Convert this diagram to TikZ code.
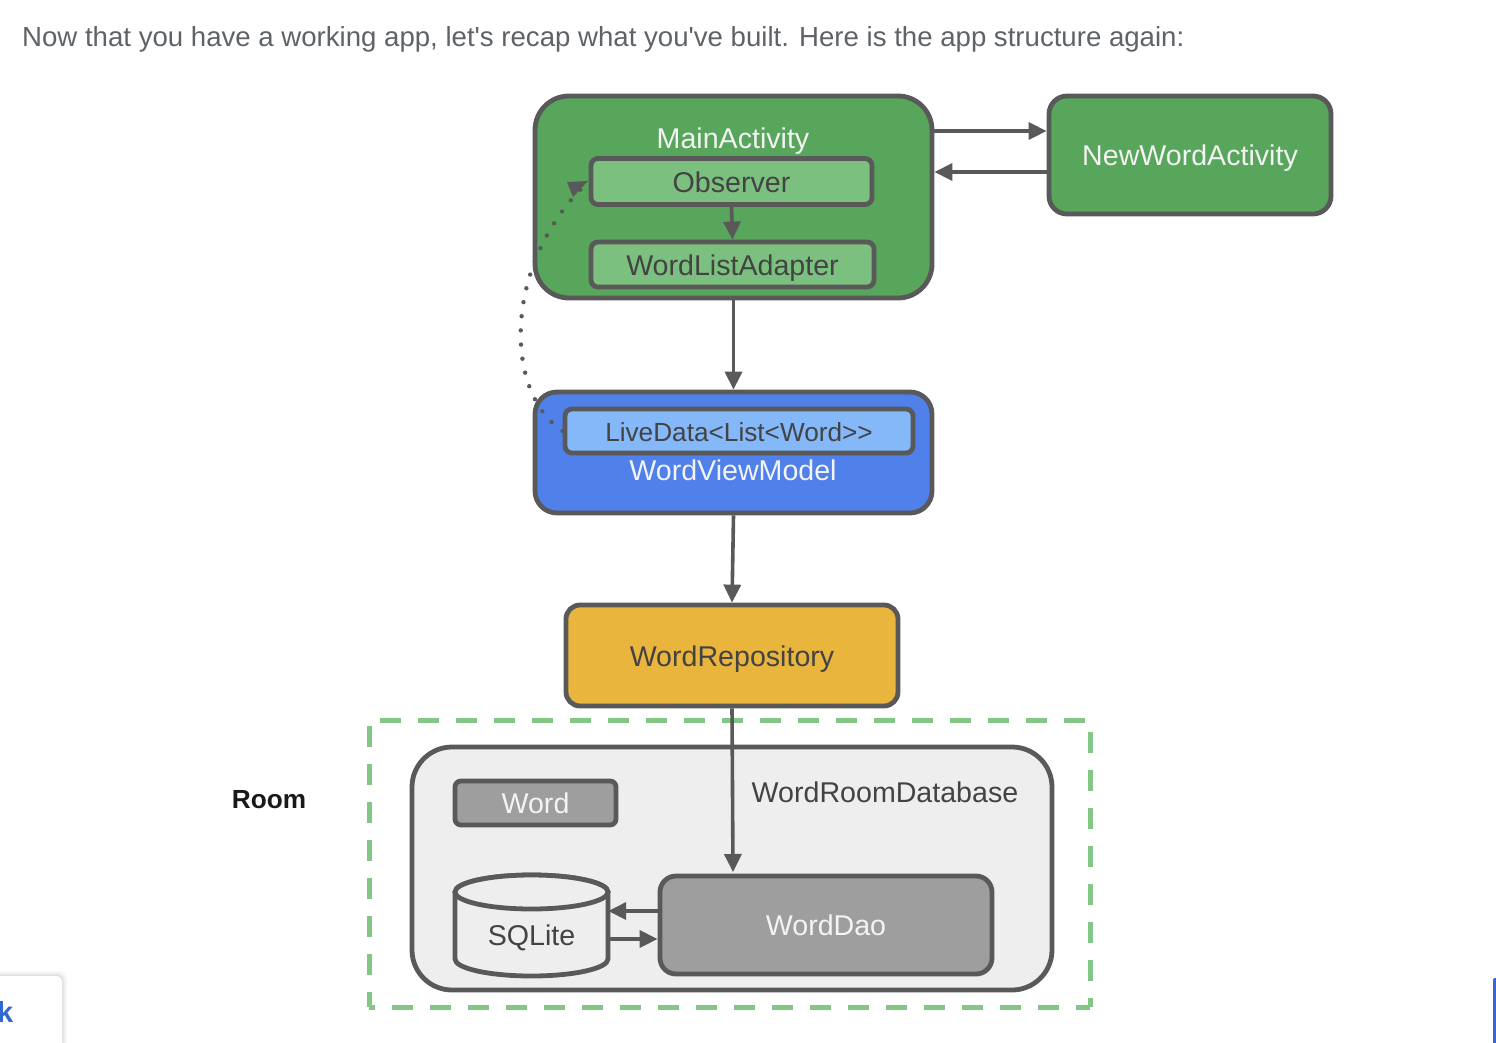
\documentclass[tikz,border=0pt]{standalone}
\usepackage{fontspec}
\setmainfont{Liberation Sans}
\newfontfamily\plainsans{Liberation Sans}
\usetikzlibrary{arrows.meta,shapes.geometric}
\definecolor{edgegrey}{HTML}{595959}
\definecolor{bodytext}{HTML}{5F6368}
\definecolor{darktext}{HTML}{434343}
\definecolor{lighttext}{HTML}{F3F3F3}
\definecolor{maingreen}{HTML}{57A65B}
\definecolor{subgreen}{HTML}{7BC07E}
\definecolor{mainblue}{HTML}{5080EA}
\definecolor{subblue}{HTML}{85B8F8}
\definecolor{repoyellow}{HTML}{E9B53C}
\definecolor{roomgrey}{HTML}{EEEEEE}
\definecolor{daogrey}{HTML}{9E9E9E}
\definecolor{dashgreen}{HTML}{82C785}
\definecolor{linkblue}{HTML}{3367D6}
\tikzset{
  box/.style={draw=edgegrey,line width=4.8pt,rectangle,inner sep=0pt,text=darktext,text height=21pt,text depth=0pt,font=\fontsize{28.6}{32}\selectfont},
  flow/.style={draw=edgegrey,line width=3.6pt,-{Triangle[length=18pt,width=17pt]}},
  dots/.style={draw=edgegrey,line width=4.4pt,line cap=round,dash pattern=on 0pt off 14.2pt},
  tag/.style={inner sep=0pt,text height=21pt,text depth=0pt,font=\fontsize{28.6}{32}\selectfont},
  roomdash/.style={draw=dashgreen,line width=5pt},
}
\begin{document}
\begin{tikzpicture}[x=1pt,y=-1pt]
\useasboundingbox (0,0) rectangle (1496,1042);
\fill[white] (0,0) rectangle (1496,1042);

\node[anchor=base west,inner sep=0pt,text=bodytext,font=\plainsans\fontsize{27.6}{32}\selectfont] (intro) at (22,46) {Now that you have a working app, let's recap what you've built. Here is the app structure again:};

% page furniture
\foreach \g/\o in {5/0.03,3/0.04,1.5/0.05}{
  \fill[black,opacity=\o,rounded corners=7pt] (-20,976-\g) rectangle (62+\g,1070);
}
\fill[white,rounded corners=6pt] (-20,976) rectangle (62,1070);
\node[anchor=base west,inner sep=0pt,text=linkblue,font=\fontsize{29}{32}\selectfont\bfseries] (klabel) at (-3,1022) {k};
\fill[linkblue,rounded corners=2pt] (1493,978) rectangle (1510,1060);

% Room region
\draw[roomdash,dash pattern=on 21pt off 17pt,dash phase=6pt] (369,1007) -- (369,720) -- (1090,720) -- (1090,1007);
\draw[roomdash,dash pattern=on 21pt off 17pt,dash phase=15pt] (369,1007) -- (1090,1007);
\node[box,fill=roomgrey,rounded corners=40pt,minimum width=640pt,minimum height=243pt] (room) at (732,868.5) {};
\node[tag,text=darktext] (roomname) at (885,792) {WordRoomDatabase};
\node[inner sep=0pt,font=\fontsize{26.2}{32}\selectfont\bfseries,text=black!90] (roomlabel) at (269,800) {Room};

% Upper boxes
\node[box,fill=maingreen,rounded corners=34pt,minimum width=397pt,minimum height=202pt] (main) at (733.5,197) {};
\node[tag,text=lighttext] (mainname) at (733,138) {MainActivity};
\node[box,fill=subgreen,rounded corners=7pt,minimum width=281pt,minimum height=46pt] (observer) at (731.5,181.5) {Observer};
\node[box,fill=subgreen,rounded corners=7pt,minimum width=283pt,minimum height=45pt] (adapter) at (732.5,264.5) {WordListAdapter};
\node[box,fill=maingreen,rounded corners=18pt,minimum width=282pt,minimum height=118pt,text=lighttext] (newword) at (1190,155) {NewWordActivity};

\node[box,fill=mainblue,rounded corners=22pt,minimum width=397pt,minimum height=121pt] (vm) at (733.5,452.5) {};
\node[box,fill=subblue,rounded corners=7pt,minimum width=348pt,minimum height=44pt,font=\fontsize{26.2}{32}\selectfont] (live) at (739,431) {LiveData<List<Word>{}>};
\node[tag,text=lighttext] (vmname) at (733,470) {WordViewModel};

\node[box,fill=repoyellow,rounded corners=14pt,minimum width=332pt,minimum height=101pt] (repo) at (732,655.5) {WordRepository};

% Room contents
\node[box,fill=daogrey,rounded corners=6pt,minimum width=161pt,minimum height=44pt,text=lighttext] (word) at (535.5,803) {Word};
\node[box,fill=daogrey,rounded corners=16pt,minimum width=332pt,minimum height=98pt,text=lighttext] (dao) at (826,925) {WordDao};

% SQLite cylinder
\filldraw[draw=edgegrey,fill=roomgrey,line width=4.8pt] (455,892) -- (455,959) arc[start angle=180,end angle=360,x radius=76.5pt,y radius=17pt] -- (608,892) arc[start angle=0,end angle=180,x radius=76.5pt,y radius=17pt] -- cycle;
\filldraw[draw=edgegrey,fill=roomgrey,line width=4.8pt] (531.5,892) ellipse[x radius=76.5pt,y radius=17pt];
\node[inner sep=0pt,minimum width=153pt,minimum height=101pt] (sqlite) at (531.5,925.5) {};
\node[tag,text=darktext] (sqlitename) at (531.5,935) {SQLite};

% anchors for the parallel connectors
\coordinate (mainout) at (main.east |- 0,131);
\coordinate (newin) at (newword.west |- 0,131);
\coordinate (newout) at (newword.west |- 0,172);
\coordinate (mainin) at (main.east |- 0,172);
\coordinate (daoout) at (dao.west |- 0,911);
\coordinate (sqlin) at (sqlite.east |- 0,911);
\coordinate (sqlout) at (sqlite.east |- 0,939);
\coordinate (daoin) at (dao.west |- 0,939);
\coordinate (daotop) at (733,872);

\draw[flow] (mainout) -- (newin);
\draw[flow] (newout) -- (mainin);
\draw[flow] (observer.south) -- (adapter.north);
\draw[flow] (main.south) -- (vm.north);
\draw[flow] (vm.south) -- (repo.north);
\draw[flow] (repo.south) -- (daotop);
\draw[flow] (daoout) -- (sqlin);
\draw[flow] (sqlout) -- (daoin);

% dotted observation link
\draw[dots] (live.west) .. controls (503,392) and (503,262) .. (observer.west);
\fill[edgegrey] (588,181) -- (567,182) -- (573,197) -- cycle;
\end{tikzpicture}
\end{document}
